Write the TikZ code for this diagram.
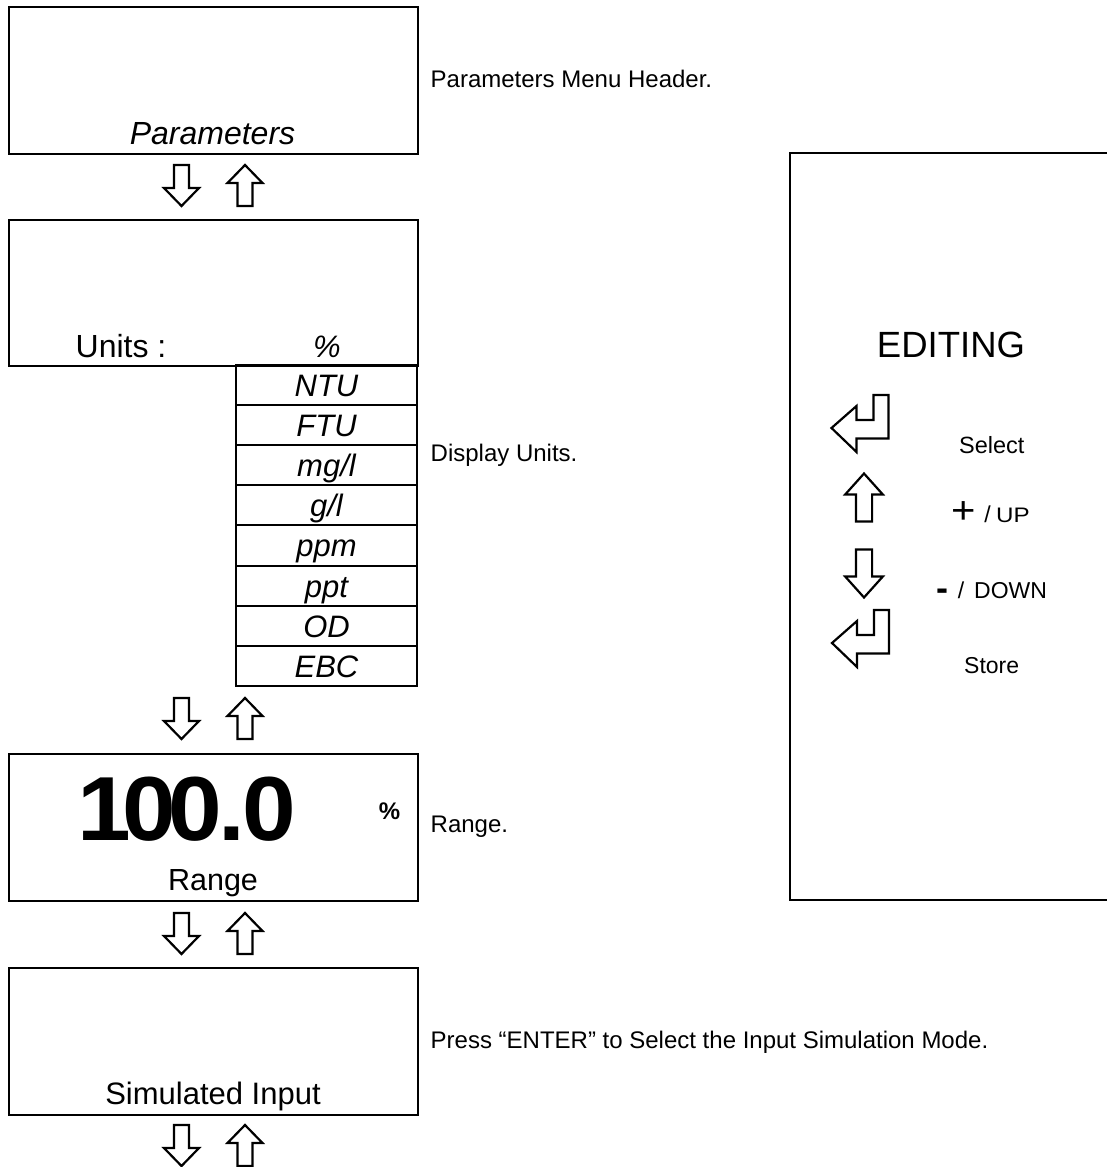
\documentclass[tikz,border=0pt]{standalone}
\usepackage{fontspec}
\setmainfont{Liberation Sans}
\usepackage{graphicx}
\newcommand\fs[1]{\fontsize{#1}{#1}\selectfont}
\newcommand\hs[2]{\scalebox{#1}[1]{#2}}
\tikzset{
  screen/.style={draw, line width=2pt, minimum width=409pt, inner sep=0pt, anchor=north west},
  unitrow/.style={draw, line width=2pt, minimum width=181pt, minimum height=40.1pt, inner sep=0pt,
                  text height=28pt, text depth=5pt, font=\fs{31}\itshape},
  lbl/.style={anchor=base west, inner sep=0pt, font=\fs{24}},
  txt/.style={anchor=base, inner sep=0pt},
  harrow/.style={draw, line width=2.2pt, fill=white, line join=miter},
  pics/uparr/.style={code={\draw[harrow] (-7.5,20.5) -- (-7.5,-2.5) -- (-17.5,-2.5) -- (0,-20.5) -- (17.5,-2.5) -- (7.5,-2.5) -- (7.5,20.5) -- cycle;}},
  pics/downarr/.style={code={\draw[harrow] (-7.5,-20.5) -- (-7.5,2.5) -- (-17.5,2.5) -- (0,20.5) -- (17.5,2.5) -- (7.5,2.5) -- (7.5,-20.5) -- cycle;}},
  pics/enterarr/.style={code={\draw[harrow] (57,-33) -- (57,10.5) -- (25,10.5) -- (25,24) -- (0,0) -- (25,-22) -- (25,-8) -- (42,-8) -- (42,-33) -- cycle;}},
}
\begin{document}
\begin{tikzpicture}[x=1pt,y=-1pt]
\useasboundingbox (0,0) rectangle (1107,1167);

% --- Parameters header screen
\node[screen, minimum height=147pt] (hdr) at (8,6) {};
\node[txt, font=\fs{32}\itshape] (hdrT) at (212.5,144) {Parameters};
\node[lbl] (hdrL) at (430.5,87) {Parameters Menu Header.};
\pic at (181.5,185.5) {downarr};
\pic at (245,185.5) {uparr};

% --- Units screen
\node[screen, minimum height=146pt] (units) at (8,219) {};
\node[txt, anchor=base west, font=\fs{32}] (unitsT) at (75.5,357) {Units :};
\node[txt, font=\fs{31}\itshape] (pct) at (327,357) {\%};
\foreach \t [count=\i] in {NTU,FTU,mg/l,g/l,ppm,ppt,OD,EBC}
  \node[unitrow] (u\i) at (326.5,{365+40.1*\i-20.05}) {\t};
\node[lbl] (unitsL) at (430.5,461) {Display Units.};
\pic at (181.5,718.5) {downarr};
\pic at (245,718.5) {uparr};

% --- Range screen
\node[screen, minimum height=147pt] (range) at (8,753) {};
\node[txt, font=\fs{91}\bfseries] (rngV) at (187,840) {\hs{1.06}{1\kern-9pt 0\kern-7pt 0\kern-3pt .\kern-3pt 0}};
\node[txt, font=\fs{24}\bfseries] (rngU) at (389.5,819) {\%};
\node[txt, font=\fs{30.5}] (rngT) at (213,890) {Range};
\node[lbl] (rngL) at (430.5,832) {Range.};
\pic at (181.5,933.5) {downarr};
\pic at (245,933.5) {uparr};

% --- Simulated input screen
\node[screen, minimum height=147pt] (sim) at (8,967) {};
\node[txt, font=\fs{31}] (simT) at (213,1104) {Simulated Input};
\node[lbl] (simL) at (430.5,1048) {Press “ENTER” to Select the Input Simulation Mode.};
\pic at (181.5,1145.5) {downarr};
\pic at (245,1145.5) {uparr};

% --- Editing panel
\draw[line width=2pt] (1107,153) -- (790,153) -- (790,900) -- (1107,900);
\node[txt, font=\fs{36.5}] (edT) at (951,357) {EDITING};
\pic at (831.5,428) {enterarr};
\node[txt, anchor=base west, font=\fs{23.5}] (sel) at (959,453) {Select};
\pic[xscale=1.08, yscale=1.17] at (864,497.5) {uparr};
\node[txt, font=\fs{38}] (plus) at (964,523) {\hs{1.1}{+}};
\node[txt, font=\fs{23}] (sl1) at (987.5,522) {/};
\node[txt, anchor=base west, font=\fs{21}] (up) at (996,522) {\hs{1.15}{UP}};
\pic[xscale=1.08, yscale=1.17] at (864,573.5) {downarr};
\node[txt, font=\fs{36}\bfseries] (minus) at (942,600) {-};
\node[txt, font=\fs{23}] (sl2) at (961,598) {/};
\node[txt, anchor=base west, font=\fs{23}] (down) at (974,598) {DOWN};
\pic at (832,643) {enterarr};
\node[txt, anchor=base west, font=\fs{23}] (sto) at (964,673) {Store};
\end{tikzpicture}
\end{document}
